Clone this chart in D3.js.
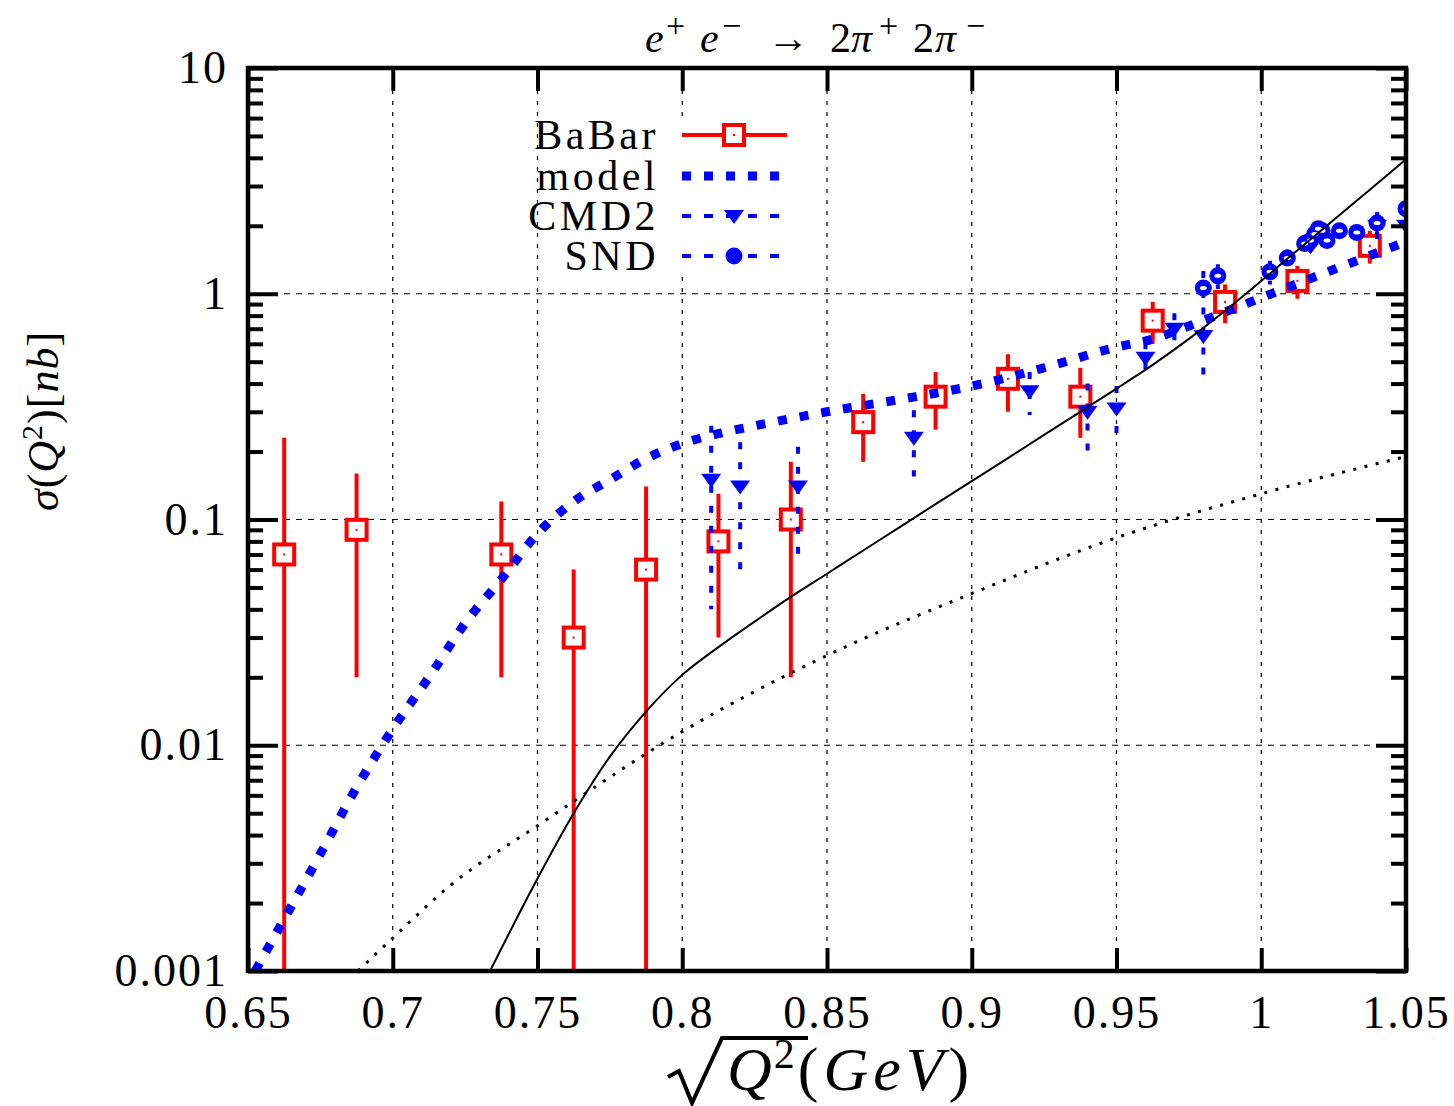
<!DOCTYPE html>
<html>
<head>
<meta charset="utf-8">
<script src="https://cdn.jsdelivr.net/npm/d3@7"></script>
<style>
  body { margin: 0; background: #fff; }
  svg { display: block; }
  text { font-family: "Liberation Serif", "Times New Roman", serif; fill: #000; }
</style>
</head>
<body>
<svg id="chart" width="1454" height="1106"></svg>
<script>
// ---- BaBar measurements: sqrt(Q^2) [GeV], sigma [nb], symmetric error [nb]
const babarX   = [0.6625, 0.6875, 0.7375, 0.7625, 0.7875, 0.8125, 0.8375, 0.8625, 0.8875, 0.9125, 0.9375, 0.9625, 0.9875, 1.0125, 1.0375];
const babarY   = [0.07,   0.09,   0.07,   0.03,   0.06,   0.08,   0.10,   0.27,   0.35,   0.42,   0.35,   0.76,   0.92,   1.14,   1.63];
const babarErr = [0.16,   0.07,   0.05,   0.03,   0.08,   0.05,   0.08,   0.09,   0.10,   0.12,   0.12,   0.16,   0.18,   0.19,   0.27];

// ---- CMD2 measurements
const cmdX   = [0.81, 0.82, 0.84, 0.88,  0.92, 0.94, 0.95, 0.96, 0.97, 0.98, 1.017, 1.04, 1.05];
const cmdY   = [0.15, 0.14, 0.14, 0.23,  0.37, 0.30, 0.31, 0.52, 0.70, 0.65, 1.62,  2.00, 2.00];
const cmdErr = [0.11, 0.08, 0.07, 0.075, 0.08, 0.10, 0.08, 0.09, 0.12, 0.22, 0.12,  0.30, 0.20];

// ---- SND measurements
const sndX   = [0.98, 0.985, 1.003, 1.009, 1.015, 1.017, 1.0185, 1.0197, 1.021, 1.0227, 1.027, 1.033, 1.04, 1.05];
const sndY   = [1.06, 1.20,  1.25,  1.44,  1.67,  1.72,  1.84,   1.94,   1.90,  1.72,   1.90,  1.87,  2.06, 2.38];
const sndErr = [0.20, 0.15,  0.15,  0.13,  0.15,  0.15,  0.15,   0.15,   0.15,  0.15,   0.12,  0.12,  0.20, 0.15];

// ---- model cross section
const modelX = [0.6525, 0.6625, 0.675, 0.6875, 0.70, 0.7125, 0.725, 0.7375, 0.75, 0.7625, 0.775, 0.7875, 0.80, 0.8125, 0.825, 0.8375, 0.85, 0.875, 0.90, 0.925, 0.95, 0.9625, 0.975, 0.9875, 1.00, 1.025, 1.05];
const modelY = [0.001, 0.0017, 0.0033, 0.0065, 0.0118, 0.020, 0.0347, 0.0543, 0.0865, 0.12, 0.15, 0.186, 0.217, 0.24, 0.26, 0.28, 0.30, 0.34, 0.39, 0.47, 0.58, 0.63, 0.72, 0.83, 0.96, 1.28, 1.70];

// ---- additional contribution (solid black)
const solidX = [0.7336, 0.7495, 0.7625, 0.775, 0.7875, 0.80, 0.8125, 0.825, 0.8375, 0.85, 0.8625, 0.875, 0.8875, 0.90, 0.9125, 0.925, 0.9375, 0.95, 0.9625, 0.975, 0.9875, 1.00, 1.0125, 1.025, 1.0375, 1.05];
const solidY = [0.001, 0.0025, 0.0050, 0.0089, 0.0141, 0.0205, 0.0272, 0.0353, 0.0454, 0.0575, 0.0729, 0.0923, 0.117, 0.148, 0.187, 0.237, 0.300, 0.380, 0.484, 0.631, 0.841, 1.14, 1.56, 2.12, 2.89, 3.94];

// ---- additional contribution (dotted black)
const dotX = [0.688, 0.70, 0.72, 0.75, 0.80, 0.85, 0.90, 0.95, 1.00, 1.05];
const dotY = [0.001, 0.0014, 0.0024, 0.0044, 0.0115, 0.025, 0.047, 0.083, 0.13, 0.19];

// ---- axes
const xTicks = [0.65, 0.7, 0.75, 0.8, 0.85, 0.9, 0.95, 1.0, 1.05];
const xTickLabels = ["0.65", "0.7", "0.75", "0.8", "0.85", "0.9", "0.95", "1", "1.05"];
const yTicks = [0.001, 0.01, 0.1, 1, 10];
const yTickLabels = ["0.001", "0.01", "0.1", "1", "10"];
const legendLabels = ["BaBar", "model", "CMD2", "SND"];

const RED = "#ff0000", BLUE = "#0000ff";
const L = 248, R = 1406, T = 68, B = 971;

const svg = d3.select("#chart");
const x = d3.scaleLinear().domain([0.65, 1.05]).range([L, R]);
const y = d3.scaleLog().domain([0.001, 10]).range([B, T]);

svg.append("defs").append("clipPath").attr("id", "plotClip")
  .append("rect").attr("x", L).attr("y", T).attr("width", R - L).attr("height", B - T);

// grid
const grid = svg.append("g").attr("stroke", "#000").attr("stroke-width", 1.2);
grid.selectAll("line.gx").data(xTicks.slice(1, -1)).join("line")
  .attr("x1", d => x(d)).attr("x2", d => x(d)).attr("y1", T).attr("y2", B)
  .attr("stroke-dasharray", "4,7");
grid.selectAll("line.gy").data(yTicks.slice(1, -1)).join("line")
  .attr("y1", d => y(d)).attr("y2", d => y(d)).attr("x1", L).attr("x2", R)
  .attr("stroke-dasharray", "6,6");

// white background for the legend samples
svg.append("rect").attr("x", 668).attr("y", 116).attr("width", 130).attr("height", 158).attr("fill", "#fff");

const plot = svg.append("g").attr("clip-path", "url(#plotClip)");
const lineGen = d3.line().x(d => x(d[0])).y(d => y(d[1])).curve(d3.curveMonotoneX);
const yc = v => y(Math.max(v, 1e-5));

// BaBar: error bars + open squares
const babar = babarX.map((v, i) => ({ x: v, y: babarY[i], e: babarErr[i] }));
plot.append("g").selectAll("line").data(babar).join("line")
  .attr("x1", d => x(d.x)).attr("x2", d => x(d.x))
  .attr("y1", d => yc(d.y - d.e)).attr("y2", d => y(d.y + d.e))
  .attr("stroke", RED).attr("stroke-width", 4);
plot.append("g").selectAll("rect").data(babar).join("rect")
  .attr("x", d => x(d.x) - 10).attr("y", d => y(d.y) - 10)
  .attr("width", 20).attr("height", 20)
  .attr("fill", "#fff").attr("stroke", RED).attr("stroke-width", 4);
plot.append("g").selectAll("rect").data(babar).join("rect")
  .attr("x", d => x(d.x) - 1).attr("y", d => y(d.y) - 1)
  .attr("width", 2).attr("height", 2).attr("fill", RED);

// model curve
plot.append("path").datum(modelX.map((v, i) => [v, modelY[i]]))
  .attr("d", lineGen).attr("fill", "none").attr("stroke", BLUE)
  .attr("stroke-width", 9).attr("stroke-dasharray", "9,13");

// CMD2: dashed error bars + filled down-triangles
const cmd = cmdX.map((v, i) => ({ x: v, y: cmdY[i], e: cmdErr[i] }));
plot.append("g").selectAll("line").data(cmd).join("line")
  .attr("x1", d => x(d.x)).attr("x2", d => x(d.x))
  .attr("y1", d => y(d.y + d.e)).attr("y2", d => yc(d.y - d.e))
  .attr("stroke", BLUE).attr("stroke-width", 4).attr("stroke-dasharray", "7,13");
const tri = "M-10,-6L10,-6L0,8Z";
plot.append("g").selectAll("path").data(cmd).join("path")
  .attr("d", tri).attr("transform", d => `translate(${x(d.x)},${y(d.y)})`)
  .attr("fill", BLUE);

// SND: dashed error bars + circles
const snd = sndX.map((v, i) => ({ x: v, y: sndY[i], e: sndErr[i] }));
plot.append("g").selectAll("line").data(snd).join("line")
  .attr("x1", d => x(d.x)).attr("x2", d => x(d.x))
  .attr("y1", d => y(d.y + d.e)).attr("y2", d => yc(d.y - d.e))
  .attr("stroke", BLUE).attr("stroke-width", 4).attr("stroke-dasharray", "7,13");
plot.append("g").selectAll("circle").data(snd).join("circle")
  .attr("cx", d => x(d.x)).attr("cy", d => y(d.y)).attr("r", 8.5).attr("fill", BLUE);
plot.append("g").selectAll("ellipse").data(snd).join("ellipse")
  .attr("cx", d => x(d.x)).attr("cy", d => y(d.y)).attr("rx", 3.5).attr("ry", 2).attr("fill", "#fff");

// black curves
plot.append("path").datum(dotX.map((v, i) => [v, dotY[i]]))
  .attr("d", lineGen).attr("fill", "none").attr("stroke", "#000")
  .attr("stroke-width", 3).attr("stroke-dasharray", "3,8.5");
plot.append("path").datum(solidX.map((v, i) => [v, solidY[i]]))
  .attr("d", lineGen).attr("fill", "none").attr("stroke", "#000").attr("stroke-width", 2);

// axes
const minorY = [];
yTicks.slice(0, -1).forEach(d => { for (let m = 2; m <= 9; m++) minorY.push(d * m); });

function styleAxis(g) {
  g.select(".domain").remove();
  g.selectAll(".tick line").attr("stroke", "#000").attr("stroke-width", 4);
  g.selectAll(".tick text").style("font-family", '"Liberation Serif", serif')
    .style("font-size", "46px").style("letter-spacing", "2px").attr("fill", "#000");
}
svg.append("g").attr("transform", `translate(0,${B})`)
  .call(d3.axisBottom(x).tickValues(xTicks).tickSize(-23).tickPadding(24)
    .tickFormat((d, i) => xTickLabels[i]))
  .call(styleAxis);
svg.append("g").attr("transform", `translate(0,${T})`)
  .call(d3.axisTop(x).tickValues(xTicks).tickSize(-23).tickFormat(""))
  .call(styleAxis);
svg.append("g").attr("transform", `translate(${L},0)`)
  .call(d3.axisLeft(y).tickValues(yTicks).tickSize(-30).tickPadding(20)
    .tickFormat((d, i) => yTickLabels[i]))
  .call(styleAxis);
svg.append("g").attr("transform", `translate(${L},0)`)
  .call(d3.axisLeft(y).tickValues(minorY).tickSize(-15).tickFormat(""))
  .call(styleAxis);
svg.append("g").attr("transform", `translate(${R},0)`)
  .call(d3.axisRight(y).tickValues(yTicks).tickSize(-30).tickFormat(""))
  .call(styleAxis);
svg.append("g").attr("transform", `translate(${R},0)`)
  .call(d3.axisRight(y).tickValues(minorY).tickSize(-15).tickFormat(""))
  .call(styleAxis);

// frame
svg.append("rect").attr("x", L).attr("y", T).attr("width", R - L).attr("height", B - T)
  .attr("fill", "none").attr("stroke", "#000").attr("stroke-width", 4.5);

// legend
const legend = svg.append("g");
const rowY = [135, 176, 216, 256];
legendLabels.forEach((lab, i) => {
  legend.append("text").attr("x", 659).attr("y", rowY[i] + 14)
    .attr("text-anchor", "end").style("font-size", "42px").style("letter-spacing", "3.5px").text(lab);
});
legend.append("line").attr("x1", 682).attr("x2", 787).attr("y1", rowY[0]).attr("y2", rowY[0])
  .attr("stroke", RED).attr("stroke-width", 4);
legend.append("rect").attr("x", 724).attr("y", rowY[0] - 10).attr("width", 20).attr("height", 20)
  .attr("fill", "#fff").attr("stroke", RED).attr("stroke-width", 4);
legend.append("rect").attr("x", 733).attr("y", rowY[0] - 1).attr("width", 2).attr("height", 2).attr("fill", RED);
legend.append("line").attr("x1", 682).attr("x2", 785).attr("y1", rowY[1]).attr("y2", rowY[1])
  .attr("stroke", BLUE).attr("stroke-width", 9).attr("stroke-dasharray", "9,13");
[2, 3].forEach(i => {
  legend.append("line").attr("x1", 682).attr("x2", 785).attr("y1", rowY[i]).attr("y2", rowY[i])
    .attr("stroke", BLUE).attr("stroke-width", 4).attr("stroke-dasharray", "9,13");
});
legend.append("path").attr("d", tri).attr("transform", `translate(734,${rowY[2]})`).attr("fill", BLUE);
legend.append("circle").attr("cx", 734).attr("cy", rowY[3]).attr("r", 8.5).attr("fill", BLUE);

// title: e+e- -> 2pi+ 2pi-
const title = svg.append("text").attr("y", 52).style("font-size", "42px");
const tpart = (txt, px, opts = {}) => {
  const t = title.append("tspan").attr("x", px).text(txt);
  if (opts.it) t.style("font-style", "italic");
  if (opts.sup) t.attr("y", 37).style("font-size", "34px");
  else t.attr("y", 52);
};
tpart("e", 645, { it: true });
tpart("+", 666, { sup: true });
tpart("e", 700, { it: true });
tpart("−", 722, { sup: true });
tpart("→", 767);
tpart("2", 830);
tpart("π", 851, { it: true });
tpart("+", 879, { sup: true });
tpart("2", 913);
tpart("π", 935, { it: true });
tpart("−", 966, { sup: true });

// y-axis label
const yl = svg.append("text").attr("transform", "translate(58,421) rotate(-90)")
  .attr("text-anchor", "middle").style("font-size", "44px").style("letter-spacing", "1px");
yl.append("tspan").style("font-style", "italic").text("σ");
yl.append("tspan").text("(");
yl.append("tspan").style("font-style", "italic").text("Q");
yl.append("tspan").attr("dy", -16).style("font-size", "30px").text("2");
yl.append("tspan").attr("dy", 16).text(")[");
yl.append("tspan").style("font-style", "italic").text("nb");
yl.append("tspan").text("]");

// x-axis label: radical sign drawn as a stroke, then Q^2(GeV)
svg.append("path").attr("d", "M668,1077L679,1071L692,1103L722,1038L808,1038")
  .attr("fill", "none").attr("stroke", "#000").attr("stroke-width", 4)
  .attr("stroke-linejoin", "miter");
const xl = svg.append("text").attr("x", 727).attr("y", 1090).style("font-size", "62px");
xl.append("tspan").style("font-style", "italic").text("Q");
xl.append("tspan").attr("dy", -22).attr("dx", 2).style("font-size", "42px").text("2");
xl.append("tspan").attr("dy", 22).attr("dx", 3).style("letter-spacing", "5px").text("(");
xl.append("tspan").style("font-style", "italic").style("letter-spacing", "5px").text("GeV");
xl.append("tspan").text(")");
</script>
</body>
</html>
